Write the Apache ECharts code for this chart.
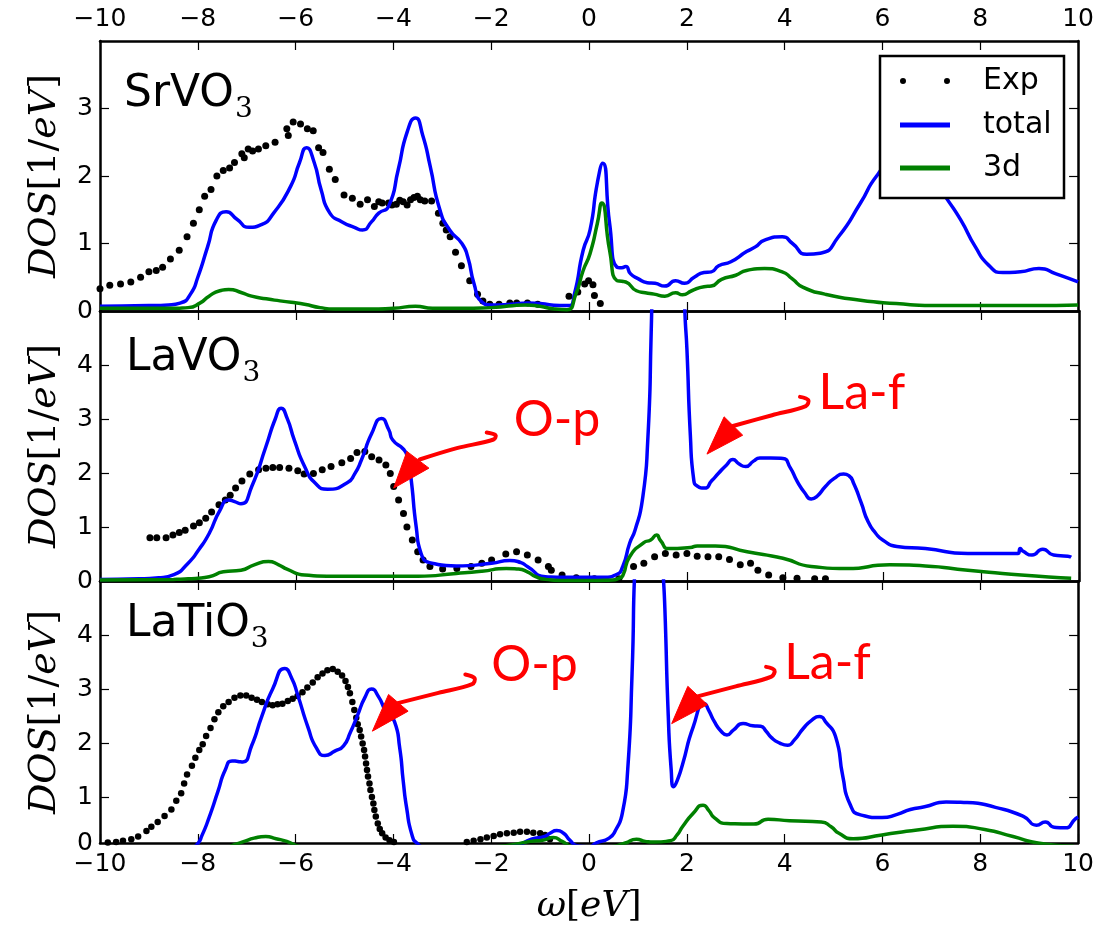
<!DOCTYPE html>
<html lang="en">
<head>
<meta charset="UTF-8">
<title>DOS</title>
<script src="https://cdn.jsdelivr.net/npm/echarts@6/dist/echarts.min.js"></script>
<style>
    html, body { margin: 0; padding: 0; background: #fff; }
    #main { width: 1097px; height: 932px; }
</style>
</head>
<body>
<div id="main"></div>
<script>
// ---- data: [omega (eV), DOS (1/eV)] ----
var srvoTotal = [[-10,0.07],[-9,0.08],[-8.6,0.09],[-8.35,0.12],[-8.15,0.25],[-8.0,0.5],[-7.8,0.95],[-7.62,1.35],[-7.42,1.47],[-7.2,1.36],[-6.95,1.24],[-6.7,1.28],[-6.45,1.45],[-6.1,1.85],[-5.92,2.2],[-5.78,2.42],[-5.62,2.2],[-5.48,1.8],[-5.3,1.45],[-5.05,1.32],[-4.8,1.24],[-4.63,1.2],[-4.45,1.32],[-4.3,1.45],[-4.1,1.55],[-3.9,2.1],[-3.72,2.65],[-3.55,2.86],[-3.4,2.6],[-3.25,2.15],[-3.05,1.5],[-2.85,1.2],[-2.6,1.0],[-2.48,0.8],[-2.35,0.4],[-2.2,0.14],[-2.0,0.09],[-1.6,0.1],[-1.25,0.12],[-1.0,0.11],[-0.6,0.08],[-0.41,0.08],[-0.3,0.25],[-0.12,0.9],[0.02,1.2],[0.17,1.9],[0.28,2.19],[0.42,1.3],[0.57,0.65],[0.67,0.64],[0.75,0.66],[0.85,0.55],[1.0,0.48],[1.19,0.42],[1.35,0.41],[1.55,0.37],[1.77,0.45],[1.95,0.41],[2.15,0.5],[2.35,0.57],[2.5,0.58],[2.65,0.67],[2.9,0.73],[3.22,0.88],[3.4,0.95],[3.59,1.05],[3.95,1.1],[4.16,1.0],[4.45,0.84],[4.75,0.86],[5.1,1.1],[5.55,1.6],[5.88,2.0],[6.1,2.12],[6.6,2.15],[7.0,2.0],[7.3,1.68],[7.6,1.35],[7.9,0.95],[8.17,0.68],[8.46,0.57],[8.82,0.58],[9.2,0.63],[9.55,0.55],[10,0.43]];
var srvo3d = [[-10,0.04],[-8.6,0.04],[-8.2,0.05],[-7.95,0.12],[-7.77,0.22],[-7.55,0.3],[-7.37,0.32],[-7.1,0.27],[-6.9,0.22],[-6.6,0.18],[-6.32,0.15],[-5.82,0.1],[-5.5,0.05],[-5.2,0.03],[-4.5,0.03],[-4.0,0.04],[-3.55,0.07],[-3.2,0.04],[-2.6,0.04],[-2.0,0.05],[-1.27,0.09],[-1.0,0.07],[-0.7,0.03],[-0.45,0.02],[-0.27,0.25],[-0.12,0.6],[0.02,0.85],[0.17,1.3],[0.26,1.6],[0.42,0.9],[0.57,0.45],[0.67,0.44],[0.75,0.43],[0.97,0.3],[1.15,0.27],[1.33,0.25],[1.55,0.22],[1.77,0.27],[1.91,0.24],[2.1,0.3],[2.35,0.36],[2.5,0.37],[2.71,0.47],[3.0,0.53],[3.22,0.6],[3.59,0.63],[3.95,0.58],[4.15,0.48],[4.38,0.35],[4.82,0.25],[5.55,0.16],[6.28,0.11],[7.0,0.08],[8.0,0.08],[9.0,0.08],[10,0.09]];
var srvoExp = [[-10.0,0.33],[-9.8,0.38],[-9.58,0.4],[-9.37,0.43],[-9.17,0.5],[-9.0,0.58],[-8.85,0.6],[-8.72,0.65],[-8.56,0.77],[-8.38,0.9],[-8.22,1.1],[-8.09,1.3],[-7.97,1.5],[-7.86,1.7],[-7.73,1.8],[-7.61,2.0],[-7.48,2.08],[-7.35,2.12],[-7.25,2.2],[-7.1,2.33],[-7.05,2.27],[-6.97,2.4],[-6.88,2.37],[-6.76,2.4],[-6.61,2.45],[-6.42,2.5],[-6.18,2.7],[-6.15,2.6],[-6.05,2.8],[-5.9,2.77],[-5.76,2.7],[-5.64,2.67],[-5.53,2.42],[-5.44,2.35],[-5.31,2.1],[-5.19,1.95],[-5.01,1.72],[-4.84,1.67],[-4.68,1.58],[-4.53,1.65],[-4.39,1.55],[-4.3,1.62],[-4.23,1.6],[-4.1,1.6],[-4.03,1.57],[-3.94,1.58],[-3.87,1.64],[-3.8,1.62],[-3.72,1.57],[-3.65,1.65],[-3.58,1.68],[-3.51,1.7],[-3.45,1.65],[-3.36,1.63],[-3.22,1.63],[-3.08,1.45],[-2.99,1.3],[-2.92,1.2],[-2.84,1.1],[-2.73,0.87],[-2.61,0.67],[-2.44,0.45],[-2.28,0.25],[-2.17,0.15],[-2.03,0.1],[-1.84,0.1],[-1.62,0.12],[-1.48,0.12],[-1.26,0.12],[-1.05,0.1],[-0.41,0.22],[-0.23,0.28],[-0.09,0.4],[-0.01,0.45],[0.08,0.39],[0.11,0.23],[0.23,0.11]];

var lavoTotal = [[-10,0.03],[-9.2,0.04],[-8.8,0.06],[-8.49,0.12],[-8.2,0.33],[-7.99,0.57],[-7.77,0.88],[-7.55,1.31],[-7.37,1.5],[-7.25,1.47],[-7.12,1.43],[-6.9,1.75],[-6.61,2.49],[-6.42,3.0],[-6.3,3.2],[-6.18,3.02],[-6.03,2.61],[-5.82,2.12],[-5.6,1.81],[-5.35,1.7],[-4.95,1.82],[-4.8,1.98],[-4.66,2.24],[-4.45,2.73],[-4.25,3.01],[-4.1,2.8],[-4.02,2.61],[-3.8,2.44],[-3.72,2.3],[-3.65,1.93],[-3.54,1.0],[-3.44,0.51],[-3.22,0.33],[-2.72,0.28],[-2.0,0.33],[-1.63,0.38],[-1.4,0.34],[-1.27,0.27],[-0.9,0.08],[-0.5,0.07],[0.3,0.07],[0.55,0.12],[0.68,0.27],[0.82,0.7],[0.93,0.94],[1.08,1.5],[1.19,2.6],[1.26,4.6],[1.32,7],[1.6,9],[1.88,7],[1.95,4.96],[1.99,4.3],[2.06,2.7],[2.13,1.87],[2.2,1.76],[2.35,1.72],[2.5,1.86],[2.64,2.0],[2.8,2.15],[2.93,2.25],[3.05,2.17],[3.19,2.12],[3.35,2.22],[3.48,2.28],[3.7,2.28],[3.95,2.27],[4.1,2.1],[4.24,1.85],[4.4,1.63],[4.53,1.52],[4.65,1.57],[4.82,1.75],[5.0,1.9],[5.19,1.98],[5.3,1.95],[5.4,1.8],[5.55,1.45],[5.69,1.1],[5.85,0.88],[5.99,0.76],[6.28,0.64],[6.86,0.6],[7.73,0.51],[8.75,0.51],[8.8,0.6],[8.86,0.55],[9.04,0.48],[9.26,0.59],[9.48,0.48],[9.77,0.46],[9.84,0.44]];
var lavo3d = [[-10,0.02],[-8.5,0.03],[-8.2,0.04],[-7.77,0.08],[-7.48,0.17],[-7.12,0.2],[-6.85,0.3],[-6.56,0.36],[-6.35,0.3],[-6.18,0.22],[-5.82,0.11],[-5.24,0.09],[-4.5,0.09],[-3.5,0.09],[-2.72,0.14],[-2.2,0.18],[-1.7,0.23],[-1.45,0.22],[-1.27,0.17],[-1.1,0.08],[-0.9,0.03],[-0.5,0.01],[0,0.01],[0.46,0.02],[0.6,0.05],[0.68,0.1],[0.82,0.45],[1.11,0.71],[1.25,0.76],[1.37,0.85],[1.45,0.75],[1.62,0.6],[2.06,0.62],[2.2,0.65],[2.57,0.65],[3.22,0.54],[3.95,0.42],[4.53,0.27],[5.26,0.23],[6.13,0.3],[6.86,0.28],[7.73,0.2],[8.82,0.11],[9.84,0.05]];
var lavoExp = [[-8.98,0.8],[-8.84,0.8],[-8.65,0.8],[-8.51,0.85],[-8.38,0.9],[-8.26,0.94],[-8.09,1.02],[-7.97,1.08],[-7.84,1.16],[-7.72,1.28],[-7.57,1.41],[-7.44,1.5],[-7.34,1.59],[-7.23,1.72],[-7.1,1.85],[-6.94,1.98],[-6.76,2.06],[-6.61,2.09],[-6.47,2.1],[-6.33,2.1],[-6.14,2.09],[-5.96,2.04],[-5.83,1.98],[-5.64,1.99],[-5.46,2.06],[-5.28,2.12],[-5.06,2.19],[-4.88,2.27],[-4.75,2.38],[-4.59,2.4],[-4.45,2.3],[-4.3,2.24],[-4.16,2.15],[-4.07,1.99],[-4.0,1.75],[-3.9,1.5],[-3.8,1.25],[-3.73,1.0],[-3.62,0.76],[-3.51,0.54],[-3.4,0.39],[-3.26,0.27],[-3.0,0.22],[-2.71,0.23],[-2.42,0.27],[-2.2,0.33],[-2.0,0.39],[-1.71,0.5],[-1.49,0.54],[-1.27,0.48],[-1.05,0.39],[-0.84,0.27],[-0.78,0.2],[-0.56,0.11],[-0.27,0.06],[0.1,0.04],[0.6,0.04],[0.9,0.27],[1.11,0.33],[1.33,0.45],[1.55,0.51],[1.77,0.48],[1.99,0.51],[2.2,0.46],[2.42,0.45],[2.64,0.45],[2.86,0.4],[3.08,0.3],[3.29,0.33],[3.44,0.2],[3.66,0.11],[3.95,0.06],[4.24,0.05],[4.6,0.04],[4.82,0.04]];

var latiTotal = [[-10,0.02],[-8.2,0.03],[-8.02,0.12],[-7.91,0.3],[-7.77,0.62],[-7.59,1.1],[-7.44,1.5],[-7.3,1.67],[-7.18,1.66],[-7.08,1.65],[-6.9,1.95],[-6.69,2.5],[-6.47,3.0],[-6.22,3.38],[-6.08,3.2],[-5.96,2.9],[-5.75,2.3],[-5.57,1.9],[-5.4,1.77],[-5.2,1.85],[-5.02,1.95],[-4.88,2.2],[-4.74,2.5],[-4.58,2.85],[-4.45,3.0],[-4.3,2.85],[-4.16,2.6],[-3.98,2.4],[-3.87,1.9],[-3.8,1.3],[-3.73,0.8],[-3.62,0.3],[-3.51,0.14],[-3.3,0.05],[-2.0,0.05],[-1.5,0.1],[-1.18,0.22],[-0.91,0.27],[-0.8,0.33],[-0.66,0.38],[-0.52,0.33],[-0.39,0.2],[-0.25,0.1],[0.0,0.08],[0.14,0.15],[0.41,0.24],[0.55,0.4],[0.68,0.7],[0.79,1.5],[0.88,3.3],[0.95,5.5],[1.2,9],[1.45,7],[1.51,5.3],[1.55,4.5],[1.62,2.5],[1.68,1.5],[1.73,1.19],[1.8,1.3],[1.91,1.6],[2.13,2.3],[2.36,2.73],[2.45,2.6],[2.56,2.4],[2.7,2.22],[2.82,2.15],[2.95,2.24],[3.15,2.36],[3.35,2.32],[3.51,2.31],[3.62,2.22],[3.73,2.1],[3.9,2.0],[4.06,1.96],[4.2,2.06],[4.38,2.27],[4.55,2.42],[4.71,2.49],[4.85,2.38],[5.04,2.12],[5.19,1.38],[5.33,0.88],[5.55,0.67],[5.99,0.62],[6.3,0.68],[6.57,0.77],[6.86,0.82],[7.3,0.91],[7.73,0.9],[8.31,0.81],[8.89,0.64],[9.15,0.48],[9.33,0.54],[9.51,0.44],[9.73,0.43],[9.95,0.6],[10,0.63]];
var lati3d = [[-10,0.02],[-7.5,0.05],[-7.25,0.12],[-7.05,0.18],[-6.85,0.24],[-6.61,0.27],[-6.4,0.23],[-6.18,0.18],[-5.9,0.08],[-5.5,0.04],[-4,0.04],[-2.5,0.05],[-1.7,0.1],[-1.2,0.18],[-0.95,0.2],[-0.73,0.25],[-0.55,0.18],[-0.35,0.08],[0,0.03],[0.46,0.08],[0.74,0.15],[0.97,0.22],[1.15,0.18],[1.33,0.17],[1.66,0.19],[1.8,0.3],[1.91,0.45],[2.13,0.7],[2.33,0.85],[2.45,0.75],[2.56,0.62],[2.82,0.51],[3.37,0.5],[3.66,0.59],[4.1,0.56],[4.75,0.54],[4.95,0.45],[5.11,0.33],[5.4,0.23],[5.99,0.3],[6.71,0.39],[7.44,0.46],[8.09,0.4],[8.67,0.27],[9.18,0.15],[9.91,0.09]];
var latiExp = [[-9.84,0.16],[-9.67,0.17],[-9.53,0.19],[-9.36,0.22],[-9.22,0.27],[-9.05,0.37],[-8.95,0.45],[-8.82,0.54],[-8.68,0.65],[-8.54,0.77],[-8.44,0.93],[-8.34,1.07],[-8.28,1.25],[-8.22,1.42],[-8.12,1.58],[-8.05,1.73],[-7.97,1.87],[-7.9,1.98],[-7.83,2.13],[-7.74,2.28],[-7.66,2.44],[-7.58,2.57],[-7.48,2.68],[-7.37,2.76],[-7.25,2.84],[-7.13,2.88],[-7.01,2.88],[-6.9,2.84],[-6.79,2.8],[-6.69,2.76],[-6.57,2.72],[-6.47,2.7],[-6.37,2.72],[-6.27,2.73],[-6.16,2.78],[-6.06,2.82],[-5.96,2.87],[-5.86,2.94],[-5.76,3.03],[-5.65,3.12],[-5.55,3.22],[-5.45,3.29],[-5.35,3.35],[-5.24,3.37],[-5.14,3.32],[-5.05,3.25],[-4.98,3.15],[-4.93,3.04],[-4.89,2.92],[-4.84,2.76],[-4.8,2.61],[-4.76,2.47],[-4.73,2.35],[-4.69,2.24],[-4.66,2.12],[-4.63,1.99],[-4.6,1.87],[-4.58,1.75],[-4.56,1.62],[-4.54,1.5],[-4.52,1.38],[-4.49,1.25],[-4.47,1.13],[-4.44,1.0],[-4.41,0.88],[-4.39,0.76],[-4.36,0.64],[-4.32,0.51],[-4.28,0.41],[-4.23,0.33],[-4.16,0.25],[-4.08,0.2],[-3.99,0.17],[-2.5,0.17],[-2.36,0.19],[-2.22,0.22],[-2.09,0.25],[-1.95,0.28],[-1.82,0.31],[-1.68,0.33],[-1.54,0.34],[-1.41,0.36],[-1.27,0.36],[-1.14,0.34],[-1.0,0.33],[-0.9,0.3],[-0.8,0.22]];

// annotation arrows (data coords of each panel): shaft points and head triangle
var lavoOpShaft = [[-3.47,2.25],[-2.71,2.46],[-1.96,2.62],[-1.92,2.7],[-2.1,2.75]];
var lavoOpHead = [[-4.0,1.72],[-3.73,2.4],[-3.28,2.09]];
var lavoLaShaft = [[2.93,2.87],[3.73,3.07],[4.42,3.24],[4.47,3.35],[4.3,3.41]];
var lavoLaHead = [[2.4,2.35],[2.75,3.04],[3.13,2.7]];
var latiOpShaft = [[-3.91,2.74],[-3.08,2.93],[-2.39,3.09],[-2.34,3.2],[-2.53,3.27]];
var latiOpHead = [[-4.43,2.22],[-4.1,2.9],[-3.7,2.59]];
var latiLaShaft = [[2.2,2.86],[3.0,3.05],[3.73,3.23],[3.79,3.35],[3.62,3.41]];
var latiLaHead = [[1.69,2.36],[2.02,3.05],[2.42,2.71]];

var chart = echarts.init(document.getElementById('main'));

var sansFont = 'DejaVu Sans';
var mathFont = 'DejaVu Serif';
var blue = '#0000ff';
var green = '#008000';

var panels = [
    {title: 'SrVO', total: srvoTotal, d3: srvo3d, exp: srvoExp, ymin: 0, ymax: 4, top: 41, height: 270, dot: 7},
    {title: 'LaVO', total: lavoTotal, d3: lavo3d, exp: lavoExp, ymin: 0, ymax: 5, top: 311, height: 270, dot: 7},
    {title: 'LaTiO', total: latiTotal, d3: lati3d, exp: latiExp, ymin: 0.15, ymax: 5, top: 581, height: 262, dot: 6.5}
];

function minusFmt(v) {
    return String(v).replace('-', '\u2212');
}

var frame = {show: true, onZero: false, lineStyle: {color: '#000', width: 2.5}};
var tick = {show: true, inside: true, length: 9, lineStyle: {color: '#000', width: 1.2}};
var labelStyle = {color: '#000', fontFamily: sansFont, fontSize: 25};

var grids = [], xAxes = [], yAxes = [], series = [];

panels.forEach(function (p, i) {
    grids.push({left: 100, right: 18, top: p.top, height: p.height});

    // bottom and top x axes
    [false, true].forEach(function (isTop) {
        var showLab = (isTop && i === 0) || (!isTop && i === 2);
        var ax = {
            type: 'value', gridIndex: i, position: isTop ? 'top' : 'bottom',
            min: -10, max: 10, interval: 2,
            axisLine: frame, axisTick: tick, splitLine: {show: false},
            axisLabel: Object.assign({show: showLab, margin: 9, formatter: minusFmt}, labelStyle)
        };
        if (!isTop && i === 2) {
            ax.name = '{i|\u03c9}{r|[}{i|eV}{r|]}';
            ax.nameLocation = 'middle';
            ax.nameGap = 46;
            ax.nameTextStyle = {
                color: '#000',
                rich: {
                    i: {fontFamily: mathFont, fontStyle: 'italic', fontSize: 36, color: '#000'},
                    r: {fontFamily: mathFont, fontSize: 36, color: '#000'}
                }
            };
        }
        xAxes.push(ax);
    });

    // left and right y axes
    [false, true].forEach(function (isRight) {
        var ay = {
            type: 'value', gridIndex: i, position: isRight ? 'right' : 'left',
            min: p.ymin, max: p.ymax,
            axisLine: frame, splitLine: {show: false},
            axisTick: Object.assign({}, tick),
            axisLabel: Object.assign({show: !isRight, margin: 7}, labelStyle)
        };
        if (i === 2) {
            ay.axisTick.customValues = [1, 2, 3, 4];
            ay.axisLabel.customValues = [0.15, 1, 2, 3, 4];
            ay.axisLabel.formatter = function (v) { return v < 0.5 ? '0' : String(v); };
        } else {
            ay.interval = 1;
            ay.axisLabel.showMaxLabel = false;
        }
        if (!isRight) {
            ay.name = '{i|DOS}{r|[1/}{i|eV}{r|]}';
            ay.nameLocation = 'middle';
            ay.nameRotate = 90;
            ay.nameGap = 36;
            ay.nameTextStyle = {
                color: '#000',
                rich: {
                    i: {fontFamily: mathFont, fontStyle: 'italic', fontSize: 38, color: '#000'},
                    r: {fontFamily: mathFont, fontSize: 38, color: '#000'}
                }
            };
        }
        yAxes.push(ay);
    });

    series.push({
        name: 'Exp', type: 'scatter', xAxisIndex: 2 * i, yAxisIndex: 2 * i,
        data: p.exp, symbolSize: p.dot, itemStyle: {color: '#000', opacity: 1}, z: 2, clip: true
    });
    series.push({
        name: 'total', type: 'line', xAxisIndex: 2 * i, yAxisIndex: 2 * i,
        data: p.total, showSymbol: false, smooth: 0.6,
        color: blue, lineStyle: {color: blue, width: 3.5}, z: 3, clip: true
    });
    series.push({
        name: '3d', type: 'line', xAxisIndex: 2 * i, yAxisIndex: 2 * i,
        data: p.d3, showSymbol: false, smooth: 0.6,
        color: green, lineStyle: {color: green, width: 3.5}, z: 4, clip: true
    });
});

// legend: three rows inside one framed box
var legendRows = [
    {name: 'Exp', center: 81, icon: 'path://M0,3a3,3 0 1,0 6,0a3,3 0 1,0 -6,0zM44,3a3,3 0 1,0 6,0a3,3 0 1,0 -6,0z', h: 6},
    {name: 'total', center: 125, icon: 'rect', h: 5},
    {name: '3d', center: 168, icon: 'rect', h: 5}
];
var legends = legendRows.map(function (r) {
    return {
        data: [{name: r.name, icon: r.icon}],
        left: 900, top: r.center - 15, padding: 0,
        itemWidth: 50, itemHeight: r.h, selectedMode: false, z: 20,
        textStyle: {color: '#000', fontFamily: sansFont, fontSize: 30, lineHeight: 30, padding: [0, 0, 0, 28]}
    };
});

chart.setOption({
    animation: false,
    backgroundColor: '#fff',
    grid: grids,
    xAxis: xAxes,
    yAxis: yAxes,
    legend: legends,
    series: series
});

// ---- annotations, placed through the axes ----
function toPx(panel, pt) {
    return chart.convertToPixel({xAxisIndex: 2 * panel, yAxisIndex: 2 * panel}, pt);
}
function arrow(panel, shaft, head) {
    return [
        {type: 'polyline', z: 30, shape: {points: shaft.map(function (p) { return toPx(panel, p); }), smooth: 0.35},
            style: {stroke: '#ff0000', lineWidth: 4, fill: null, lineCap: 'round'}},
        {type: 'polygon', z: 30, shape: {points: head.map(function (p) { return toPx(panel, p); })},
            style: {fill: '#ff0000', stroke: '#ff0000', lineWidth: 1}}
    ];
}
function redText(panel, txt, pt) {
    var px = toPx(panel, pt);
    return {type: 'text', z: 30, x: px[0], y: px[1],
        style: {text: txt, fill: '#ff0000', font: '50px Lato', verticalAlign: 'middle', align: 'left'}};
}

var measure = document.createElement('canvas').getContext('2d');
function titleText(str, x, cy) {
    var mainFont = '44px "DejaVu Sans"';
    measure.font = mainFont;
    var w = measure.measureText(str).width;
    return [
        {type: 'text', z: 30, x: x, y: cy, style: {text: str, fill: '#000', font: mainFont, verticalAlign: 'middle'}},
        {type: 'text', z: 30, x: x + w + 1, y: cy + 15, style: {text: '3', fill: '#000', font: '28px "DejaVu Serif"', verticalAlign: 'middle'}}
    ];
}

var elements = [
    {type: 'rect', z: 10, shape: {x: 880, y: 56, width: 184, height: 142},
        style: {fill: '#fff', stroke: '#000', lineWidth: 2.5}}
];
elements = elements
    .concat(titleText(panels[0].title, 124, 95))
    .concat(titleText(panels[1].title, 126, 359))
    .concat(titleText(panels[2].title, 126, 625))
    .concat(arrow(1, lavoOpShaft, lavoOpHead))
    .concat(arrow(1, lavoLaShaft, lavoLaHead))
    .concat(arrow(2, latiOpShaft, latiOpHead))
    .concat(arrow(2, latiLaShaft, latiLaHead))
    .concat([
        redText(1, 'O-p', [-1.55, 2.98]),
        redText(1, 'La-f', [4.68, 3.48]),
        redText(2, 'O-p', [-2.0, 3.45]),
        redText(2, 'La-f', [3.99, 3.48])
    ]);

chart.setOption({graphic: elements});
</script>
</body>
</html>
